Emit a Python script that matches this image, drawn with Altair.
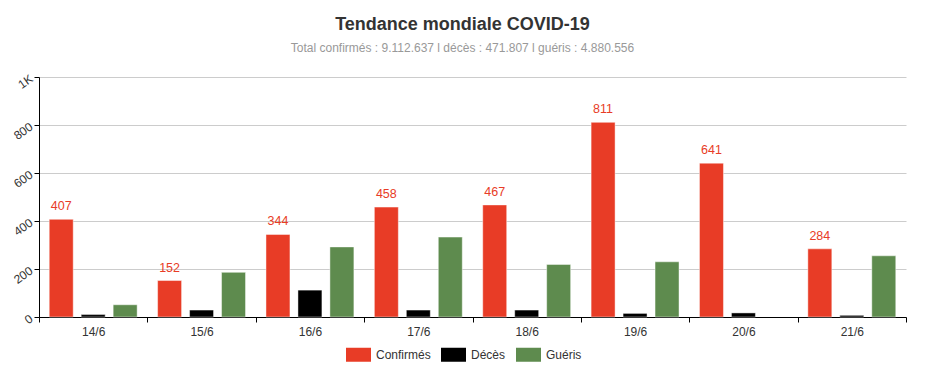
import altair as alt
import pandas as pd

dates = ["14/6", "15/6", "16/6", "17/6", "18/6", "19/6", "20/6", "21/6"]
confirmes = [407, 152, 344, 458, 467, 811, 641, 284]
deces = [10, 29, 112, 29, 29, 15, 17, 7]
gueris = [51, 186, 292, 333, 219, 230, None, 255]
series = ["Confirmés", "Décès", "Guéris"]
colors = ["#e83c26", "#000000", "#5e8b4e"]

rows = []
for i, d in enumerate(dates):
    for s, vals in zip(series, [confirmes, deces, gueris]):
        if vals[i] is not None:
            rows.append({"date": d, "serie": s, "value": vals[i]})
df = pd.DataFrame(rows)

x_enc = alt.X("date:N", sort=dates, title=None,
              scale=alt.Scale(paddingInner=0, paddingOuter=0),
              axis=alt.Axis(tickBand="extent", labelAngle=0, domainColor="#000",
                            tickColor="#000", tickSize=5, labelColor="#333",
                            labelFontSize=12, labelPadding=4, grid=False))
xoff = alt.XOffset("serie:N", sort=series,
                   scale=alt.Scale(domain=series, paddingInner=0.25, paddingOuter=0.32))
y_enc = alt.Y("value:Q", title=None,
              scale=alt.Scale(domain=[0, 1000], nice=False),
              axis=alt.Axis(values=[0, 200, 400, 600, 800, 1000],
                            labelExpr="datum.value >= 1000 ? '1K' : datum.label",
                            labelAngle=325, domainColor="#000", tickColor="#000",
                            tickSize=5, gridColor="#cccccc", labelColor="#333",
                            labelFontSize=12, labelPadding=3))

bars = alt.Chart(df).mark_bar(stroke="white", strokeOpacity=0.45, strokeWidth=1).encode(
    x=x_enc,
    xOffset=xoff,
    y=y_enc,
    color=alt.Color("serie:N", sort=series,
                    scale=alt.Scale(domain=series, range=colors),
                    legend=alt.Legend(title=None, orient="none", direction="horizontal",
                                      legendX=307, legendY=265,
                                      symbolType="M-1,-0.56H1V0.56H-1Z",
                                      symbolSize=625, symbolStrokeWidth=0,
                                      symbolOpacity=1,
                                      labelFontSize=12, labelColor="#333",
                                      labelOffset=5, columnPadding=10)),
)

labels = alt.Chart(df).transform_filter(alt.datum.serie == "Confirmés").mark_text(
    dy=-6, color="#e83c26", fontSize=12.5, baseline="bottom", font="Helvetica, Arial, sans-serif"
).encode(
    x=alt.X("date:N", sort=dates),
    xOffset=alt.XOffset("serie:N", sort=series),
    y=alt.Y("value:Q"),
    text=alt.Text("value:Q"),
)

chart = alt.layer(bars, labels).properties(
    width=867,
    height=240,
    padding={"left": 31, "top": 69, "right": 10, "bottom": 55},
    autosize=alt.AutoSizeParams(type="none"),
    title=alt.TitleParams(
        "Tendance mondiale COVID-19",
        subtitle="Total confirmés : 9.112.637 l décès : 471.807 l guéris : 4.880.556",
        anchor="middle", fontSize=18, fontWeight="bold", color="#333",
        subtitleFontSize=12, subtitleColor="#999", subtitlePadding=9,
        offset=18, dx=-10,
    ),
).configure(font="Helvetica, Arial, sans-serif").configure_view(stroke=None)

chart.save("out.html", embed_options={"renderer": "svg", "actions": False})
